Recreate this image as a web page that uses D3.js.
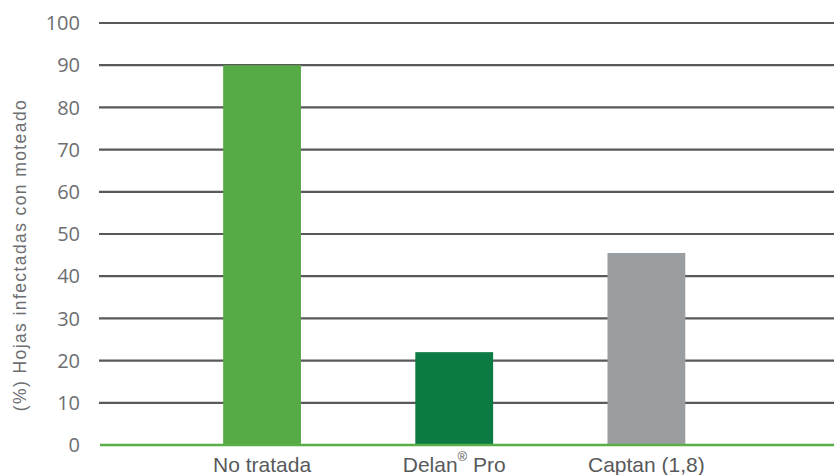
<!DOCTYPE html>
<html>
<head>
<meta charset="utf-8">
<script src="https://cdn.jsdelivr.net/npm/d3@7"></script>
<style>
  body { margin: 0; background: #fff; }
  svg { display: block; }
</style>
</head>
<body>
<svg id="chart" width="834" height="475"></svg>
<script>
const categories = ["No tratada", "Delan® Pro", "Captan (1,8)"];
const values = [90, 22, 45.5];
const barColors = ["#57ab46", "#0b7a43", "#9b9ea1"];
const yTicks = [0, 10, 20, 30, 40, 50, 60, 70, 80, 90, 100];
const yTitle = "(%) Hojas infectadas con moteado";

const svg = d3.select("#chart");
const plotLeft = 99, plotRight = 834, plotTop = 23, plotBottom = 445;

const x = d3.scaleBand()
  .domain(categories)
  .range([plotLeft, plotRight])
  .paddingInner(0.595)
  .paddingOuter(0.71)
  .align(0.455);

const y = d3.scaleLinear().domain([0, 100]).range([plotBottom, plotTop]);

// grid lines
svg.append("g")
  .selectAll("line")
  .data(yTicks.filter(d => d > 0))
  .join("line")
  .attr("x1", plotLeft)
  .attr("x2", plotRight)
  .attr("y1", d => y(d))
  .attr("y2", d => y(d))
  .attr("stroke", "#58595b")
  .attr("stroke-width", 2.2);

// tick labels
svg.append("g")
  .selectAll("text")
  .data(yTicks)
  .join("text")
  .attr("x", 80)
  .attr("y", d => y(d))
  .attr("dy", "0.36em")
  .attr("text-anchor", "end")
  .attr("fill", "#6d6e71")
  .style("font-family", "'Open Sans', sans-serif")
  .style("font-size", "20px")
  .text(d => d);

// bars
svg.append("g")
  .selectAll("rect")
  .data(values)
  .join("rect")
  .attr("x", (d, i) => x(categories[i]))
  .attr("width", x.bandwidth())
  .attr("y", d => y(d))
  .attr("height", d => y(0) - y(d))
  .attr("fill", (d, i) => barColors[i]);

// baseline
svg.append("line")
  .attr("x1", plotLeft + 1)
  .attr("x2", plotRight)
  .attr("y1", y(0))
  .attr("y2", y(0))
  .attr("stroke", "#5aae47")
  .attr("stroke-width", 2.5);

// category labels
const labels = svg.append("g")
  .selectAll("text")
  .data(categories)
  .join("text")
  .attr("x", d => x(d) + x.bandwidth() / 2)
  .attr("y", 472)
  .attr("text-anchor", "middle")
  .attr("fill", "#58595b")
  .style("font-family", "'Liberation Sans', Arial, sans-serif")
  .style("font-size", "21px");

labels.each(function(d) {
  const t = d3.select(this);
  if (d.includes("®")) {
    const parts = d.split("®");
    t.append("tspan").text(parts[0]);
    t.append("tspan").attr("dy", -11).style("font-size", "13px").text("®");
    t.append("tspan").attr("dy", 11).text(parts[1]);
  } else {
    t.text(d);
  }
});

// y title
svg.append("text")
  .attr("transform", `translate(26,255) rotate(-90)`)
  .attr("text-anchor", "middle")
  .attr("fill", "#6d6e71")
  .style("font-family", "'Liberation Sans', Arial, sans-serif")
  .style("font-size", "17.5px")
  .style("letter-spacing", "1.4px")
  .text(yTitle);
</script>
</body>
</html>
